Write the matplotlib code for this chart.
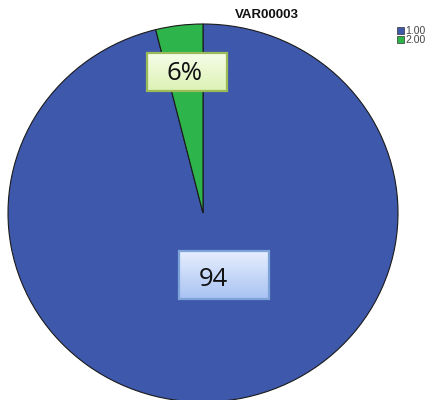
import numpy as np
import matplotlib
matplotlib.use("Agg")
import matplotlib.pyplot as plt
from matplotlib.patches import Rectangle

# Data
categories = ["1.00", "2.00"]
shares = [96.1, 3.9]            # wedge sizes
label_texts = ["94", "6%"]      # labels as printed on the chart
colors = ["#3E58AC", "#2DB44A"]
title = "VAR00003"

W, H = 428, 400
fig = plt.figure(figsize=(W / 100, H / 100), dpi=100)

# Pie axes: maps unit circle to an ellipse centred at (203,213)
cx, cy, rx, ry = 203, 213, 195, 189
ax = fig.add_axes([(cx - rx) / W, (H - cy - ry) / H, 2 * rx / W, 2 * ry / H])
wedges, _ = ax.pie(shares, colors=colors, startangle=90, counterclock=False,
                   wedgeprops=dict(edgecolor="#1a1a1a", linewidth=0.8))
ax.set_aspect("auto")
ax.set_xlim(-1, 1)
ax.set_ylim(-1, 1)
for w in wedges:
    w.set_clip_on(False)

# Overlay axes in pixel coordinates
ov = fig.add_axes([0, 0, 1, 1])
ov.set_xlim(0, W)
ov.set_ylim(H, 0)
ov.axis("off")

def grad_box(x0, y0, x1, y1, top, bottom, edge, text, tx, ty):
    n = 64
    t = np.linspace(0, 1, n)[:, None]
    c0 = np.array(matplotlib.colors.to_rgb(top))
    c1 = np.array(matplotlib.colors.to_rgb(bottom))
    img = (c0[None, None, :] * (1 - t[..., None]) + c1[None, None, :] * t[..., None])
    img = np.repeat(img, 2, axis=1)
    ov.imshow(img, extent=(x0, x1, y1, y0), aspect="auto", zorder=3, interpolation="bilinear")
    ov.add_patch(Rectangle((x0, y0), x1 - x0, y1 - y0, fill=False,
                           edgecolor=edge, linewidth=1.6, zorder=4))
    ov.text(tx, ty, text, ha="center", va="center",
            fontsize=18.5, family="Open Sans", color="#111111", zorder=5)

grad_box(147, 53, 227, 91, "#f6fde8", "#dcf2b4", "#9bbb59", label_texts[1], 185, 74)
grad_box(179, 251, 269, 299, "#e6eefd", "#a9c3f3", "#7ea3d9", label_texts[0], 213, 280)

ov.set_xlim(0, W)
ov.set_ylim(H, 0)

# Title
ov.text(267, 14.5, title, ha="center", va="center", fontsize=9.5, fontweight="bold",
        family="Liberation Sans", color="#111111")

# Legend (clipped at the right edge as in the reference)
for i, (lab, col) in enumerate(zip(categories, colors)):
    y = 27 + i * 9
    ov.add_patch(Rectangle((397, y), 7, 7, facecolor=col, edgecolor="#333333",
                           linewidth=0.5, zorder=6))
    ov.text(405, y + 3.8, lab, ha="left", va="center", fontsize=7.5,
            family="Liberation Sans", color="#444444", zorder=6)

fig.savefig("out.png", dpi=100)
